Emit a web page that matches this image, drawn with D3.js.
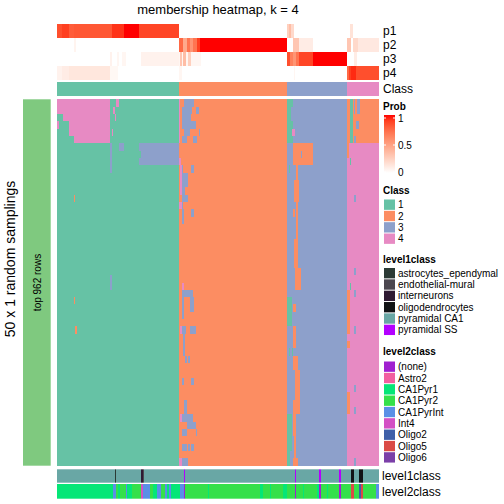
<!DOCTYPE html>
<html><head><meta charset="utf-8">
<script src="https://cdn.jsdelivr.net/npm/d3@7"></script>
<style>body{margin:0;background:#fff} svg{display:block} text{font-family:"Liberation Sans",Arial,sans-serif;fill:#000}</style>
</head><body><svg id="c" width="504" height="504"></svg>
<script>
// ---------------- data ----------------
const title = "membership heatmap, k = 4";
const classNames = ["1","2","3","4"];
const classColors = ["#66C2A5","#FC8D62","#8DA0CB","#E78AC3"];
// consensus class of the sorted samples, run-length [class, count]
const classRuns = [[1,122],[2,108],[3,60],[4,32]];
const nSamplings = 50;
// membership probabilities, run-length [value, count]
const p1Runs = [[0.85,5],[0.9,7],[0.8,5],[0.82,38],[0.93,12],[1.0,15],[0.88,40],[0,108],[0.25,2],[0.35,2],[0.2,3],[0,53],[0,3],[0.15,3],[0,26]];
const p2Runs = [[0,17],[0.06,2],[0,103],[0.75,4],[0.45,4],[0.7,3],[0.55,3],[0.7,4],[0.9,3],[1,87],[0,6],[0.3,6],[0.1,14],[0,34],[0.3,4],[0,2],[0.2,5],[0.12,21]];
const p3Runs = [[0,53],[0.07,2],[0,5],[0.05,2],[0,3],[0.05,4],[0,15],[0.07,38],[0.05,1],[0.3,2],[0.05,1],[0.35,3],[0.05,2],[0.25,3],[0.05,10],[0,86],[0.85,3],[0.65,3],[0.55,3],[0.7,3],[0.88,14],[1,34],[0,7],[0.1,3],[0,22]];
const p4Runs = [[0.07,5],[0.1,7],[0.13,41],[0.04,8],[0,61],[0.05,3],[0,105],[0,7],[0.05,1],[0,52],[0.75,2],[0.9,2],[0.95,5],[0.85,23]];
// samplings that disagree with the consensus: [rowFrom,rowTo,colFrom,colTo,class]
const deviations = [
 [0,1,0,52,4],[2,2,6,52,4],[3,3,0,1,4],[3,4,12,52,4],[5,5,17,52,4],
 [0,0,59,61,4],[1,1,56,57,4],[2,2,58,58,4],[4,4,55,55,4],
 [6,9,53,54,3],[6,6,62,66,3],[6,6,82,121,3],[7,7,84,121,3],[8,8,82,121,3],
 [24,25,53,54,3],[13,13,17,17,2],[27,27,17,17,2],[31,31,18,19,2],
 [0,5,122,122,4],[0,4,127,130,3],[0,0,131,136,3],[1,1,131,134,3],[1,1,139,141,3],[2,2,131,133,3],[3,3,131,138,3],[4,4,131,132,3],[4,4,142,142,3],[5,5,125,129,3],[5,5,136,139,3],[1,3,125,126,3],
 [8,8,122,123,4],[9,12,123,124,4],[9,16,125,125,3],[10,11,126,130,3],[9,9,134,136,3],[12,13,125,127,3],[13,13,127,130,3],[14,14,122,124,4],[15,16,125,126,3],[15,15,134,136,3],
 [25,25,125,126,4],[26,26,125,135,3],[26,29,125,126,3],[27,28,133,136,3],[31,31,123,124,4],[31,31,125,128,3],[32,34,126,127,3],[31,31,133,138,3],[35,35,128,129,3],[35,35,131,132,3],[38,38,125,126,3],[38,38,134,136,3],[41,42,127,129,3],[43,43,123,124,4],[43,43,125,135,3],[44,44,130,138,3],[45,45,125,129,3],[45,45,139,139,3],[47,47,125,129,3],[47,47,131,132,3],[47,47,134,136,3],[49,49,122,124,4],[49,49,125,130,3],
 [0,5,230,235,1],[1,2,234,235,3],[4,4,235,237,4],
 [6,8,236,255,2],[7,7,244,244,3],
 [9,9,232,232,1],[9,22,239,240,2],[11,13,237,241,2],[15,15,236,237,2],[19,22,237,238,2],
 [23,25,238,243,2],[27,30,230,234,1],[28,28,236,238,2],[31,33,236,238,2],[34,34,232,232,1],[34,34,235,235,1],[35,36,236,240,2],[37,42,238,242,2],[41,42,236,237,2],[43,47,230,234,1],[43,45,236,238,2],[46,48,237,238,2],[48,49,230,232,1],[49,49,236,240,2],
 [0,5,290,321,2],[0,5,293,295,1],[0,1,297,297,3],[0,1,300,302,3],[3,3,299,301,3],[5,5,297,298,3],
 [6,7,290,291,2],[8,8,293,293,1],[13,13,297,298,3],[23,23,297,298,3],[25,25,293,293,1],[26,26,297,298,3],[31,31,297,298,3],[39,39,297,298,3],[42,42,297,298,3],[49,49,297,298,3],[26,31,290,292,2],[33,33,290,292,2],[40,42,290,292,2]
];
const level1Names = ["astrocytes_ependymal","endothelial-mural","interneurons","oligodendrocytes","pyramidal CA1","pyramidal SS"];
const level1Colors = ["#2B3A35","#4B474F","#2E1A33","#111315","#69A7A5","#B300FF"];
const level1Runs = [[4,58],[0,1],[4,25],[2,2],[1,1],[4,40],[5,1],[4,110],[5,1],[4,23],[5,2],[4,18],[5,2],[4,10],[3,3],[4,5],[3,4],[4,16]];
const level2Names = ["(none)","Astro2","CA1Pyr1","CA1Pyr2","CA1PyrInt","Int4","Oligo2","Oligo5","Oligo6"];
const level2Colors = ["#A020D0","#F25FA0","#05E677","#35E04A","#5A8FE6","#D350C4","#3F5FA8","#DA4A45","#7B3FA8"];
const level2Runs = [[2,56],[4,3],[3,2],[2,2],[3,6],[4,1],[2,5],[3,9],[5,2],[4,7],[3,3],[2,4],[4,4],[3,4],[4,2],[2,2],[4,2],[2,9],[4,4],[0,1],[3,23],[2,1],[3,51],[2,3],[3,7],[2,1],[3,12],[2,4],[3,8],[0,1],[3,7],[2,1],[3,13],[2,2],[0,2],[3,6],[2,1],[3,11],[0,2],[3,10],[7,3],[3,5],[6,2],[7,2],[3,13],[4,3]];
const probTicks = [0,0.5,1];
const rowTitle = "50 x 1 random samplings";
const rowSubTitle = "top 962 rows";

// ---------------- helpers ----------------
const expand = runs => runs.flatMap(([v,n]) => Array(n).fill(v));
const consensus = expand(classRuns);
const nCols = consensus.length;
const matrix = d3.range(nSamplings).map(() => consensus.slice());
deviations.forEach(([r0,r1,c0,c1,k]) => { for (let r=r0;r<=r1;r++) for (let c=c0;c<=c1;c++) matrix[r][c]=k; });
const toRuns = arr => { const out=[]; arr.forEach((v,i)=>{ if(out.length && out[out.length-1].v===v) out[out.length-1].n++; else out.push({v,s:i,n:1}); }); return out; };

const svg = d3.select("#c");
const x = d3.scaleBand().domain(d3.range(nCols)).range([57,379]);
const y = d3.scaleBand().domain(d3.range(nSamplings)).range([99.3,465.7]);
const probColor = d3.scaleLinear().domain([0,1]).range(["#FFFFFF","#FF0000"]).interpolate(d3.interpolateLab);
const classColor = d3.scaleOrdinal().domain([1,2,3,4]).range(classColors);

// title
svg.append("text").attr("x",218).attr("y",14).attr("text-anchor","middle").style("font-size","13px").text(title);

// top annotation
const topRows = [{name:"p1",runs:p1Runs},{name:"p2",runs:p2Runs},{name:"p3",runs:p3Runs},{name:"p4",runs:p4Runs}];
const yTop = d3.scaleBand().domain(topRows.map(d=>d.name)).range([24,80]);
topRows.forEach(row => {
  const vals = expand(row.runs);
  const g = svg.append("g");
  g.selectAll("rect").data(toRuns(vals)).join("rect")
    .attr("x",d=>x(d.s)).attr("width",d=>x.step()*d.n)
    .attr("y",yTop(row.name)).attr("height",yTop.bandwidth())
    .attr("fill",d=>probColor(d.v));
  svg.append("text").attr("x",383).attr("y",yTop(row.name)+yTop.bandwidth()/2).attr("dy","0.35em").style("font-size","12px").text(row.name);
});
// class row
svg.append("g").selectAll("rect").data(toRuns(consensus)).join("rect")
  .attr("x",d=>x(d.s)).attr("width",d=>x.step()*d.n).attr("y",82).attr("height",14)
  .attr("fill",d=>classColor(d.v));
svg.append("text").attr("x",383).attr("y",89).attr("dy","0.35em").style("font-size","12px").text("Class");

// main heatmap
const hm = svg.append("g").attr("shape-rendering","crispEdges");
matrix.forEach((row,r) => {
  hm.append("g").selectAll("rect").data(toRuns(row)).join("rect")
    .attr("x",d=>x(d.s)).attr("width",d=>x.step()*d.n)
    .attr("y",y(r)).attr("height",y.bandwidth())
    .attr("fill",d=>classColor(d.v));
});

// left bar & titles
svg.append("rect").attr("x",23).attr("y",y.range()[0]).attr("width",27.7).attr("height",y.range()[1]-y.range()[0]).attr("fill","#7FC97F");
const cy = (y.range()[0]+y.range()[1])/2;
svg.append("text").attr("transform",`translate(37,${cy}) rotate(-90)`).attr("text-anchor","middle").attr("dy","0.35em").style("font-size","10px").text(rowSubTitle);
svg.append("text").attr("transform",`translate(10,259) rotate(-90)`).attr("text-anchor","middle").attr("dy","0.35em").style("font-size","14px").text(rowTitle);

// bottom annotations
const l1 = expand(level1Runs), l2 = expand(level2Runs);
svg.append("g").selectAll("rect").data(toRuns(l1)).join("rect")
  .attr("x",d=>x(d.s)).attr("width",d=>x.step()*d.n).attr("y",469.3).attr("height",13.4)
  .attr("fill",d=>level1Colors[d.v]);
svg.append("g").selectAll("rect").data(toRuns(l2)).join("rect")
  .attr("x",d=>x(d.s)).attr("width",d=>x.step()*d.n).attr("y",484).attr("height",14.7)
  .attr("fill",d=>level2Colors[d.v]);
svg.append("text").attr("x",382).attr("y",476).attr("dy","0.35em").style("font-size","12px").text("level1class");
svg.append("text").attr("x",382).attr("y",491.3).attr("dy","0.35em").style("font-size","12px").text("level2class");

// legends
const lx = 384, lw = 11, step = 11.34;
// Prob
svg.append("text").attr("x",383).attr("y",110).style("font-size","10px").style("font-weight","bold").text("Prob");
const defs = svg.append("defs");
const grad = defs.append("linearGradient").attr("id","pg").attr("x1",0).attr("y1",1).attr("x2",0).attr("y2",0);
d3.range(0,1.0001,0.1).forEach(t => grad.append("stop").attr("offset",t).attr("stop-color",probColor(t)));
const yProb = d3.scaleLinear().domain([0,1]).range([172,118]);
svg.append("rect").attr("x",lx).attr("y",115).attr("width",lw).attr("height",58).attr("fill","url(#pg)");
probTicks.forEach(t => {
  svg.append("line").attr("x1",lx).attr("x2",lx+2).attr("y1",yProb(t)).attr("y2",yProb(t)).attr("stroke","#fff").attr("stroke-width",1);
  svg.append("line").attr("x1",lx+lw-2).attr("x2",lx+lw).attr("y1",yProb(t)).attr("y2",yProb(t)).attr("stroke","#fff").attr("stroke-width",1);
  svg.append("text").attr("x",398).attr("y",yProb(t)).attr("dy","0.35em").style("font-size","10px").text(t);
});
function legend(titleText, ty, top, names, colors) {
  svg.append("text").attr("x",383).attr("y",ty).style("font-size","10px").style("font-weight","bold").text(titleText);
  names.forEach((n,i) => {
    svg.append("rect").attr("x",lx).attr("y",top+i*step).attr("width",lw).attr("height",step-1).attr("fill",colors[i]);
    svg.append("text").attr("x",398).attr("y",top+i*step+step/2-0.5).attr("dy","0.35em").style("font-size","10px").text(n);
  });
}
legend("Class",194,199.5,classNames,classColors);
legend("level1class",263,268,level1Names,level1Colors);
legend("level2class",355,361.5,level2Names,level2Colors);
</script></body></html>
